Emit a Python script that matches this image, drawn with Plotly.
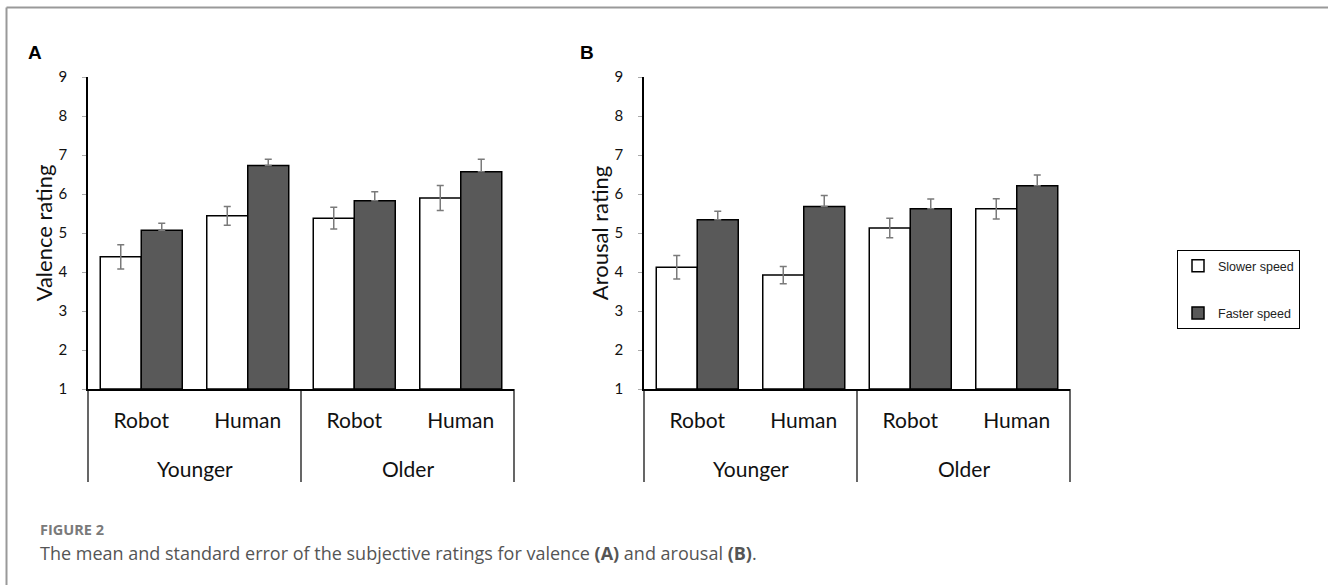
import plotly.graph_objects as go

W, H = 1328, 585

# ---- data ----
groups = ["Younger", "Younger", "Older", "Older"]
agents = ["Robot", "Human", "Robot", "Human"]
cats = ["Younger Robot", "Younger Human", "Older Robot", "Older Human"]
group_names = ["Younger", "Older"]

valence_slower = [4.39, 5.44, 5.38, 5.90]
valence_slower_se = [0.31, 0.24, 0.28, 0.32]
valence_faster = [5.07, 6.73, 5.83, 6.57]
valence_faster_se = [0.18, 0.16, 0.23, 0.32]

arousal_slower = [4.12, 3.92, 5.13, 5.62]
arousal_slower_se = [0.30, 0.22, 0.25, 0.26]
arousal_faster = [5.34, 5.68, 5.62, 6.21]
arousal_faster_se = [0.22, 0.28, 0.25, 0.28]

y_ticks = [1, 2, 3, 4, 5, 6, 7, 8, 9]
series_names = ["Slower speed", "Faster speed"]

# ---- style ----
LATO = "Lato, Carlito, Calibri, sans-serif"
ARIAL = "Liberation Sans, Arial, sans-serif"
CAP = "Open Sans, sans-serif"
DARK = "#595959"
ERR = "#7a7a7a"

def px_x(p):
    return p / W

def px_y(p):
    return 1 - p / H

domA = [px_x(88), px_x(514)]
domB = [px_x(644), px_x(1070)]
ydom = [px_y(389), px_y(77)]
y_bottom = px_y(482)

fig = go.Figure()

panels = [
    ("x", "y", valence_slower, valence_slower_se, valence_faster, valence_faster_se, True),
    ("x2", "y2", arousal_slower, arousal_slower_se, arousal_faster, arousal_faster_se, False),
]
for xa, ya, s, sse, f, fse, show in panels:
    fig.add_trace(go.Bar(
        x=cats, y=[v - 1 for v in s], base=1, name=series_names[0],
        legendgroup="s", showlegend=show,
        marker=dict(color="white", line=dict(color="black", width=1.5)),
        error_y=dict(type="data", array=sse, color=ERR, thickness=1.5, width=3.5),
        xaxis=xa, yaxis=ya,
    ))
    fig.add_trace(go.Bar(
        x=cats, y=[v - 1 for v in f], base=1, name=series_names[1],
        legendgroup="f", showlegend=show,
        marker=dict(color=DARK, line=dict(color="black", width=1.5)),
        error_y=dict(type="data", array=fse, symmetric=False,
                     arrayminus=[0 for _ in fse], color=ERR, thickness=1.5, width=3.5),
        xaxis=xa, yaxis=ya,
    ))

xcommon = dict(
    type="category", categoryorder="array", categoryarray=cats,
    tickvals=cats, ticktext=agents, ticks="", showgrid=False,
    showline=True, linecolor="black", linewidth=2,
    tickfont=dict(family=LATO, size=21, color="#111"),
    ticklabelstandoff=12, automargin=False, fixedrange=True,
)
ycommon = dict(
    range=[1, 9], tickvals=y_ticks, ticks="outside", ticklen=4, tickcolor="#aaa",
    showgrid=False, zeroline=False, showline=True, linecolor="black", linewidth=1.5,
    tickfont=dict(family=LATO, size=15, color="#111"), ticklabelstandoff=12,
    automargin=False, domain=ydom, fixedrange=True,
)
ytitle_font = dict(family=LATO, size=22, color="#111")

fig.update_layout(
    width=W, height=H,
    margin=dict(l=0, r=0, t=0, b=0),
    paper_bgcolor="white", plot_bgcolor="white",
    barmode="group", bargap=0.23, bargroupgap=0,
    xaxis=dict(domain=domA, anchor="y", **xcommon),
    xaxis2=dict(domain=domB, anchor="y2", **xcommon),
    yaxis=dict(anchor="x", title=dict(text="Valence rating", font=ytitle_font, standoff=0), **ycommon),
    yaxis2=dict(anchor="x2", title=dict(text="Arousal rating", font=ytitle_font, standoff=0), **ycommon),
    showlegend=True,
    legend=dict(
        x=px_x(1177), y=px_y(250), xanchor="left", yanchor="top",
        bordercolor="black", borderwidth=1, bgcolor="white",
        font=dict(family=ARIAL, size=12.5, color="#222"),
        tracegroupgap=28, itemwidth=30,
    ),
)

shapes = []
annotations = []
for dom in [domA, domB]:
    # vertical dividers of the category axis
    for i in [0, 2, 4]:
        xp = dom[0] + (dom[1] - dom[0]) * i / 4
        shapes.append(dict(type="line", xref="paper", yref="paper",
                           x0=xp, x1=xp, y0=ydom[0], y1=y_bottom,
                           line=dict(color="black", width=1.2)))
    # group labels
    for gi, g in enumerate(group_names):
        xp = dom[0] + (dom[1] - dom[0]) * (2 * gi + 1) / 4
        annotations.append(dict(text=g, x=xp, y=px_y(468), xref="paper", yref="paper",
                                showarrow=False, xanchor="center", yanchor="middle",
                                font=dict(family=LATO, size=21, color="#111")))

# frame lines
shapes.append(dict(type="line", xref="paper", yref="paper", x0=px_x(6.5), x1=1,
                   y0=px_y(7.5), y1=px_y(7.5), line=dict(color="#999", width=2)))
shapes.append(dict(type="line", xref="paper", yref="paper", x0=px_x(6.5), x1=px_x(6.5),
                   y0=px_y(7.5), y1=0, line=dict(color="#999", width=2)))

# panel letters
for letter, xp in [("A", 35), ("B", 587)]:
    annotations.append(dict(text="<b>%s</b>" % letter, x=px_x(xp), y=px_y(52), xref="paper", yref="paper",
                            showarrow=False, xanchor="center", yanchor="middle",
                            font=dict(family=ARIAL, size=19, color="black")))

annotations.append(dict(text="<b>FIGURE 2</b>", x=px_x(38), y=px_y(529), xref="paper", yref="paper",
                        showarrow=False, xanchor="left", yanchor="middle",
                        font=dict(family=CAP, size=14.5, color="#7a7a7a")))
annotations.append(dict(
    text="The mean and standard error of the subjective ratings for valence <b>(A)</b> and arousal <b>(B)</b>.",
    x=px_x(38), y=px_y(553), xref="paper", yref="paper",
    showarrow=False, xanchor="left", yanchor="middle",
    font=dict(family=CAP, size=18, color="#555")))

fig.update_layout(shapes=shapes, annotations=annotations)
fig.write_html("out.html", config={"displayModeBar": False},
               post_script="document.body.style.margin='0px';")
